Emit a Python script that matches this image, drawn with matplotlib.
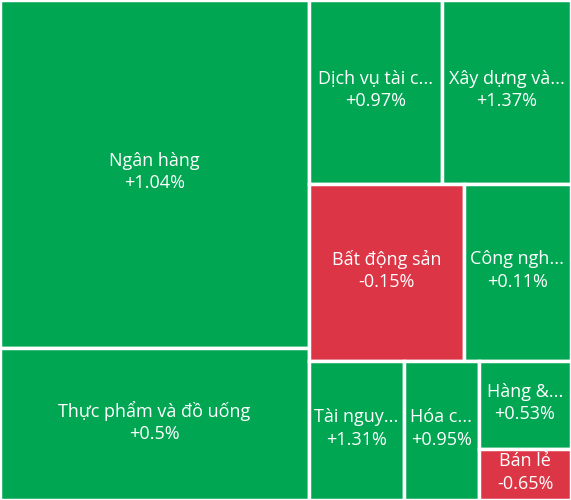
import matplotlib.pyplot as plt
from matplotlib.patches import Rectangle

# Sector treemap: labels (as shown, truncated), changes, and area weights
labels = ["Ngân hàng", "Thực phẩm và đồ uống", "Dịch vụ tài c...", "Xây dựng và...",
          "Bất động sản", "Công ngh...", "Tài nguy...", "Hóa c...", "Hàng &...", "Bán lẻ"]
changes = ["+1.04%", "+0.5%", "+0.97%", "+1.37%", "-0.15%", "+0.11%",
           "+1.31%", "+0.95%", "+0.53%", "-0.65%"]
weights = [107532, 46968, 24472, 23736, 27435, 18939, 13205, 10425, 8096, 4692]

# layout tree: 'h' splits side by side, 'v' stacks top to bottom
tree = ("h", [("v", [0, 1]),
              ("v", [("h", [2, 3]), ("h", [4, 5]), ("h", [6, 7, ("v", [8, 9])])])])

GREEN = "#00a651"
RED = "#dc3545"
W, H = 571, 500


def total(node):
    if isinstance(node, int):
        return weights[node]
    return sum(total(c) for c in node[1])


def layout(node, x, y, w, h, out):
    if isinstance(node, int):
        out.append((node, x, y, w, h))
        return
    kind, children = node
    s = total(node)
    for c in children:
        frac = total(c) / s
        if kind == "h":
            layout(c, x, y, w * frac, h, out)
            x += w * frac
        else:
            layout(c, x, y, w, h * frac, out)
            y += h * frac


fig = plt.figure(figsize=(W / 100, H / 100), dpi=100)
ax = fig.add_axes([0, 0, 1, 1])
ax.set_xlim(0, W)
ax.set_ylim(H, 0)
ax.axis("off")

rects = []
layout(tree, 0, 0, W, H, rects)
for i, x, y, w, h in rects:
    color = RED if changes[i].startswith("-") else GREEN
    ax.add_patch(Rectangle((x, y), w, h, facecolor=color, edgecolor="white", linewidth=2.5))
    ax.text(x + w / 2, y + h / 2 - 2, labels[i] + "\n" + changes[i], ha="center", va="center",
            color="white", fontsize=13, family="Open Sans", linespacing=1.35)

fig.savefig("out.png", dpi=100)
